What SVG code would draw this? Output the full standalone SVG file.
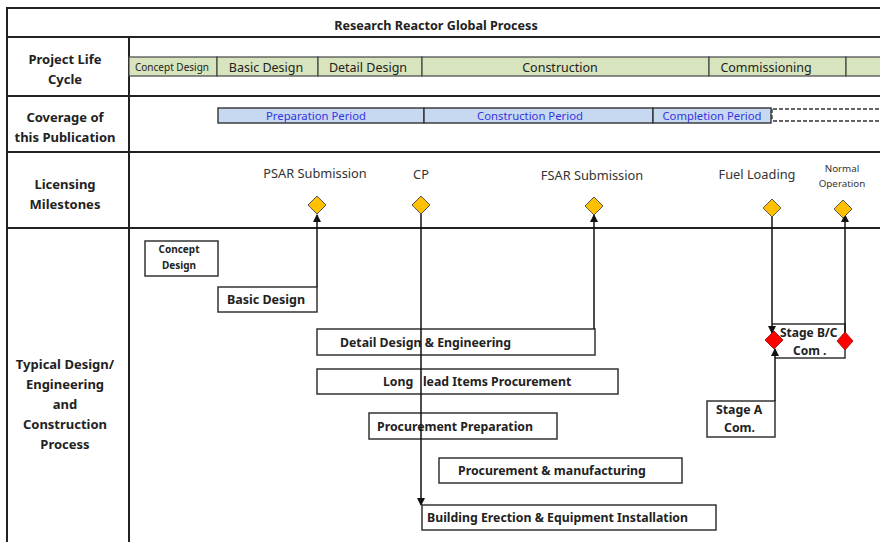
<svg xmlns="http://www.w3.org/2000/svg" width="880" height="542" viewBox="0 0 880 542">
<defs>
<style>
.frame{stroke:#222;stroke-width:2;fill:none}
.t{font-family:"Noto Sans","DejaVu Sans",sans-serif;fill:#222}
.b{font-weight:bold}
.lc{fill:#d7e4bd;stroke:#444;stroke-width:1.2}
.cv{fill:#c6d9f1;stroke:#333;stroke-width:1.4}
.cvt{font-family:"Noto Sans","DejaVu Sans",sans-serif;fill:#3535e0;font-size:11.3px}
.box{fill:#fff;stroke:#333;stroke-width:1.5}
.ms{fill:#ffc000;stroke:#555;stroke-width:1}
.rd{fill:#ff0000;stroke:#900;stroke-width:0.8}
.conn{stroke:#111;stroke-width:1.5;fill:none}
.dash{stroke:#333;stroke-width:1.3;stroke-dasharray:4,2;fill:none}
.ml{font-family:"Noto Sans","DejaVu Sans",sans-serif;fill:#333;font-size:12.8px}
.mls{font-family:"Noto Sans","DejaVu Sans",sans-serif;fill:#333;font-size:9.8px}
</style>
<marker id="arr" markerWidth="8" markerHeight="8" refX="7" refY="4" orient="auto" markerUnits="userSpaceOnUse">
<path d="M0,0 L8,4 L0,8 z" fill="#111"/>
</marker>
</defs>
<rect width="880" height="542" fill="#fff"/>
<g id="frame">
<path class="frame" d="M7,542 V8 H882 M7,37 H882 M7,96 H882 M7,152 H882 M7,228 H882 M129,37 V542"/>
</g>
<text class="t b" x="436" y="30" font-size="12.6" text-anchor="middle">Research Reactor Global Process</text>
<g id="row-labels" class="t b" font-size="13" text-anchor="middle">
<text x="65" y="64">Project Life</text>
<text x="65" y="84">Cycle</text>
<text x="65" y="122">Coverage of</text>
<text x="65" y="142">this Publication</text>
<text x="65" y="189">Licensing</text>
<text x="65" y="209">Milestones</text>
<text x="65" y="369">Typical Design/</text>
<text x="65" y="389">Engineering</text>
<text x="65" y="409">and</text>
<text x="65" y="429">Construction</text>
<text x="65" y="449">Process</text>
</g>
<g id="life-cycle">
<rect class="lc" x="129" y="57" width="88" height="19"/>
<rect class="lc" x="217" y="57" width="101" height="19"/>
<rect class="lc" x="318" y="57" width="104" height="19"/>
<rect class="lc" x="422" y="57" width="287" height="19"/>
<rect class="lc" x="709" y="57" width="137" height="19"/>
<rect class="lc" x="846" y="57" width="40" height="19"/>
<g class="t" text-anchor="middle" font-size="12.5" fill="#333">
<text x="172" y="71" font-size="10">Concept Design</text>
<text x="266" y="72">Basic  Design</text>
<text x="368" y="72">Detail Design</text>
<text x="560" y="72">Construction</text>
<text x="766" y="72">Commissioning</text>
</g>
</g>
<g id="coverage">
<rect class="cv" x="218" y="108" width="206" height="15"/>
<rect class="cv" x="424" y="108" width="229" height="15"/>
<rect class="cv" x="653" y="108" width="118" height="15"/>
<path class="dash" d="M773,109 H882 M773,121 H882 M772,109 V121"/>
<g class="cvt" text-anchor="middle">
<text x="316" y="120">Preparation Period</text>
<text x="530" y="120">Construction Period</text>
<text x="712" y="120">Completion Period</text>
</g>
</g>
<g id="n-concept"><rect class="box" x="145" y="241" width="73" height="35"/><text class="t b" font-size="10" text-anchor="middle"><tspan x="179" y="253">Concept</tspan><tspan x="179" y="269">Design</tspan></text></g>
<g id="n-basic"><rect class="box" x="218" y="287" width="99" height="25"/><text class="t b" x="266" y="304" font-size="12.5" text-anchor="middle">Basic  Design</text></g>
<g id="n-detail"><rect class="box" x="317" y="329" width="278" height="26"/><text class="t b" x="340" y="347" font-size="12.3">Detail Design &amp; Engineering</text></g>
<g id="n-long"><rect class="box" x="317" y="369" width="301" height="25"/><text class="t b" x="383" y="386" font-size="12.3" xml:space="preserve">Long   lead Items Procurement</text></g>
<g id="n-prep"><rect class="box" x="369" y="413" width="188" height="26"/><text class="t b" x="377" y="431" font-size="12.3">Procurement Preparation</text></g>
<g id="n-manuf"><rect class="box" x="439" y="458" width="243" height="25"/><text class="t b" x="458" y="475" font-size="12.3">Procurement &amp; manufacturing</text></g>
<g id="n-building"><rect class="box" x="422" y="505" width="294" height="25"/><text class="t b" x="427" y="522" font-size="12.3">Building Erection &amp; Equipment Installation</text></g>
<g id="n-stagea"><rect class="box" x="707" y="401" width="68" height="36"/><text class="t b" font-size="12.3"><tspan x="716" y="414">Stage A</tspan><tspan x="724" y="432">Com.</tspan></text></g>
<g id="n-stagebc">
<path class="box" d="M772,324 H845 V358 H775"/>
<text class="t b" font-size="12"><tspan x="780" y="337">Stage B/C</tspan><tspan x="793" y="355">Com .</tspan></text>
</g>
<g id="connectors">
<line class="conn" x1="317" y1="287" x2="317" y2="215" marker-end="url(#arr)"/>
<line class="conn" x1="421" y1="214" x2="421" y2="505" marker-end="url(#arr)"/>
<line class="conn" x1="594" y1="329" x2="594" y2="215" marker-end="url(#arr)"/>
<line class="conn" x1="772" y1="214" x2="772" y2="333" marker-end="url(#arr)"/>
<line class="conn" x1="845" y1="332" x2="845" y2="215" marker-end="url(#arr)"/>
<line class="conn" x1="775" y1="401" x2="775" y2="349" marker-end="url(#arr)"/>
</g>
<g id="milestones">
<g id="m-psar"><path class="ms" d="M317,196 L326,205 L317,214 L308,205 z"/><text class="ml" x="315" y="178" text-anchor="middle">PSAR Submission</text></g>
<g id="m-cp"><path class="ms" d="M421,196 L430,205 L421,214 L412,205 z"/><text class="ml" x="421" y="179" text-anchor="middle">CP</text></g>
<g id="m-fsar"><path class="ms" d="M594,197 L603,206 L594,215 L585,206 z"/><text class="ml" x="592" y="180" text-anchor="middle">FSAR Submission</text></g>
<g id="m-fuel"><path class="ms" d="M772,199 L781,208 L772,217 L763,208 z"/><text class="ml" x="757" y="179" text-anchor="middle">Fuel Loading</text></g>
<g id="m-normal"><path class="ms" d="M843,200 L852,209 L843,218 L834,209 z"/><text class="mls" text-anchor="middle"><tspan x="842" y="172">Normal</tspan><tspan x="842" y="187">Operation</tspan></text></g>
<g id="m-stageb"><path class="rd" d="M774,331 L783,340 L774,349 L765,340 z"/></g>
<g id="m-stagec"><path class="rd" d="M845,332 L853,341 L845,350 L837,341 z"/></g>
</g>
</svg>
